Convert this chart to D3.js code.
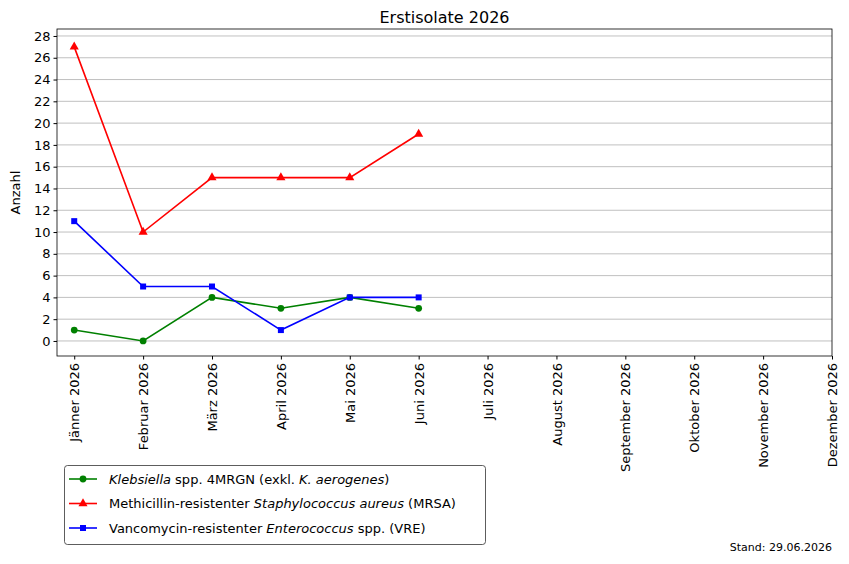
<!DOCTYPE html>
<html><head><meta charset="utf-8">
<script src="https://cdn.jsdelivr.net/npm/d3@7"></script>
<style>body{margin:0;background:#fff}text{font-family:"DejaVu Sans",sans-serif}</style>
</head><body><div id="chart"></div>
<script>
var months = ["Jänner 2026","Februar 2026","März 2026","April 2026","Mai 2026","Juni 2026","Juli 2026","August 2026","September 2026","Oktober 2026","November 2026","Dezember 2026"];
var klebsiella = [1,0,4,3,4,3];
var mrsa = [27,10,15,15,15,19];
var vre = [11,5,5,1,4,4];
var yTicks = d3.range(0,29,2);

var w = 849, h = 564;
var svg = d3.select("#chart").append("svg").attr("width",w).attr("height",h);
var pL = 57, pR = 832, pT = 29, pB = 356;

var x = d3.scaleLinear().domain([-0.25,11]).range([pL,pR]);
var y = d3.scaleLinear().domain([-1.38,28.64]).range([pB,pT]);

// grid
svg.append("g").selectAll("line").data(yTicks).enter().append("line")
    .attr("x1",pL).attr("x2",pR)
    .attr("y1",function(d){return y(d);}).attr("y2",function(d){return y(d);})
    .attr("stroke","#b0b0b0").attr("stroke-width",0.8);

var yAxis = svg.append("g").attr("transform","translate("+pL+",0)")
    .call(d3.axisLeft(y).tickValues(yTicks).tickSize(3.5).tickPadding(3));
var xAxis = svg.append("g").attr("transform","translate(0,"+pB+")")
    .call(d3.axisBottom(x).tickValues(d3.range(12)).tickSize(3.5).tickFormat(function(i){return months[i];}));
[yAxis,xAxis].forEach(function(a){
    a.selectAll("text").attr("font-size",13).attr("fill","#000").attr("font-family","DejaVu Sans");
    a.select(".domain").remove();
    a.selectAll(".tick line").attr("stroke","#000");
});
xAxis.selectAll(".tick text").attr("x",0).attr("y",0).attr("dx",0).attr("dy","0.35em")
    .attr("text-anchor","end").attr("transform","translate(0,7) rotate(-90)");

svg.append("rect").attr("x",pL).attr("y",pT).attr("width",pR-pL).attr("height",pB-pT)
    .attr("fill","none").attr("stroke","#000").attr("stroke-width",0.8);

svg.append("text").attr("x",(pL+pR)/2).attr("y",pT-6).attr("text-anchor","middle")
    .attr("font-size",16).text("Erstisolate 2026");
svg.append("text").attr("transform","translate(20,"+((pT+pB)/2)+") rotate(-90)")
    .attr("text-anchor","middle").attr("font-size",13).text("Anzahl");

var series = [
    {data:klebsiella,color:"green",shape:d3.symbolCircle},
    {data:mrsa,color:"red",shape:d3.symbolTriangle},
    {data:vre,color:"blue",shape:d3.symbolSquare}
];
var line = d3.line().x(function(d,i){return x(i);}).y(function(d){return y(d);});
series.forEach(function(s){
    svg.append("path").datum(s.data).attr("d",line).attr("fill","none")
        .attr("stroke",s.color).attr("stroke-width",1.6);
    svg.append("g").selectAll("path").data(s.data).enter().append("path")
        .attr("d",d3.symbol().type(s.shape).size(36))
        .attr("transform",function(d,i){return "translate("+x(i)+","+y(d)+")";})
        .attr("fill",s.color);
});

// legend
var lg = svg.append("g");
lg.append("rect").attr("x",64.5).attr("y",465.5).attr("width",421).attr("height",79).attr("rx",3)
    .attr("fill","#fff").attr("stroke","#333").attr("stroke-width",0.8);
var labels = [
    [["Klebsiella",1],[" spp. 4MRGN (exkl. ",0],["K. aerogenes",1],[")",0]],
    [["Methicillin-resistenter ",0],["Staphylococcus aureus",1],[" (MRSA)",0]],
    [["Vancomycin-resistenter ",0],["Enterococcus",1],[" spp. (VRE)",0]]
];
series.forEach(function(s,k){
    var ly = 479 + k*24.5;
    lg.append("line").attr("x1",69).attr("x2",97).attr("y1",ly).attr("y2",ly)
        .attr("stroke",s.color).attr("stroke-width",1.6);
    lg.append("path").attr("d",d3.symbol().type(s.shape).size(36)())
        .attr("transform","translate(83,"+ly+")").attr("fill",s.color);
    var t = lg.append("text").attr("x",109).attr("y",ly+4.5).attr("font-size",13);
    labels[k].forEach(function(p){
        t.append("tspan").attr("font-style",p[1]?"italic":"normal").text(p[0]);
    });
});

svg.append("text").attr("x",832).attr("y",551).attr("text-anchor","end")
    .attr("font-size",11).text("Stand: 29.06.2026");
</script></body></html>
